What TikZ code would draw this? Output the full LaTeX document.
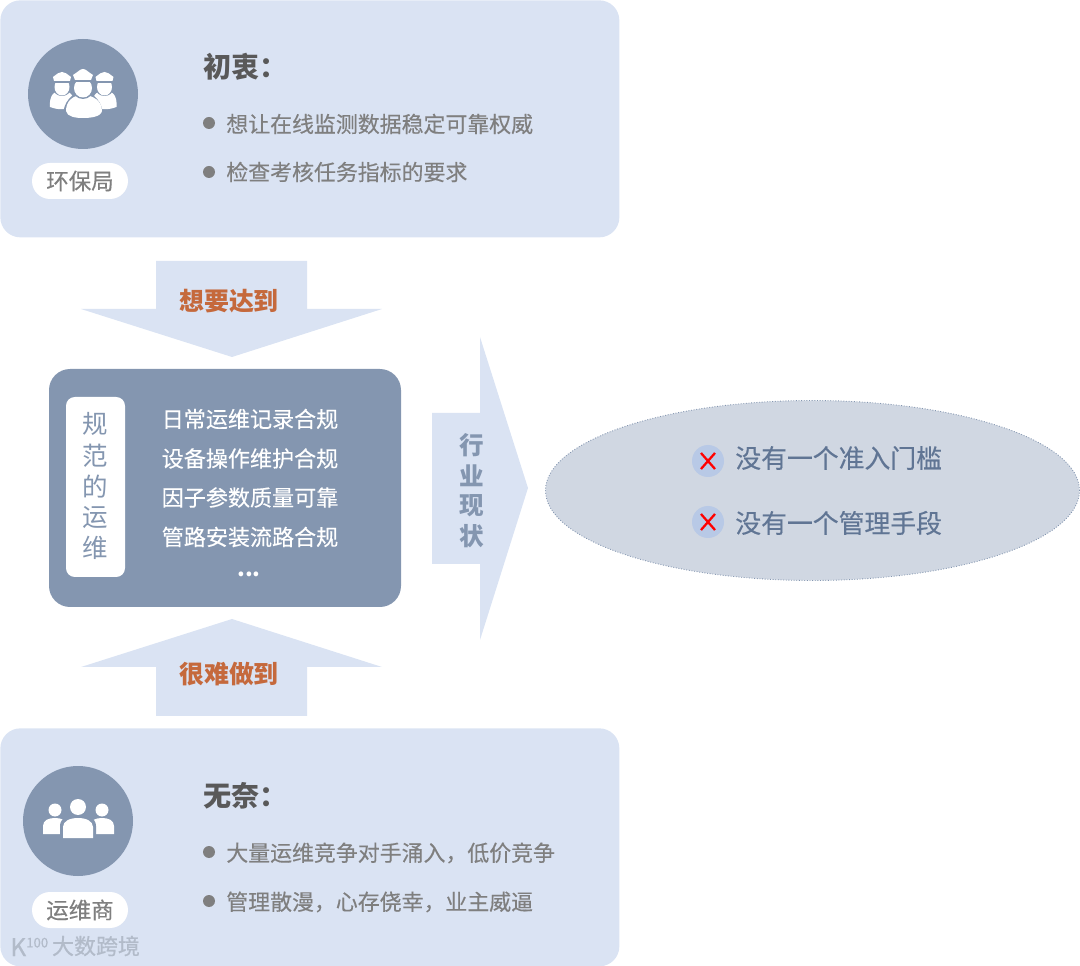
\documentclass[tikz,border=0pt]{standalone}
\usepackage{fontspec}
\setmainfont{Noto Sans CJK SC}
\newfontfamily\midfont[FakeBold=0.35]{Noto Sans CJK SC}
\newfontfamily\markfont[FakeBold=0.6]{Noto Sans CJK SC}
\usetikzlibrary{positioning,shapes.geometric}
\definecolor{panelblue}{RGB}{218,227,243}
\definecolor{slateblue}{RGB}{132,150,176}
\definecolor{textgray}{RGB}{127,127,127}
\definecolor{headgray}{RGB}{89,89,89}
\definecolor{mainorange}{RGB}{197,105,60}
\definecolor{ovalfill}{RGB}{208,215,226}
\definecolor{ovaltext}{RGB}{96,117,148}
\definecolor{crossblue}{RGB}{184,201,230}
\definecolor{markfill}{RGB}{178,187,201}
\tikzset{
  panel/.style={rectangle,fill=panelblue,rounded corners=20*0.02cm,anchor=north west,inner sep=0pt,minimum width=619*0.02cm},
  badge/.style={circle,fill=slateblue,minimum size=110*0.02cm,inner sep=0pt},
  pill/.style={rectangle,fill=white,rounded corners=18*0.02cm,minimum width=96*0.02cm,minimum height=36*0.02cm,inner sep=0pt,text=textgray,font=\fontsize{12.8}{15}\selectfont\midfont},
  heading/.style={anchor=west,inner sep=0pt,text=headgray,font=\fontsize{16}{19}\selectfont\bfseries},
  dot/.style={circle,fill=textgray,minimum size=12*0.02cm,inner sep=0pt},
  item/.style={anchor=west,inner sep=0pt,text=textgray,font=\fontsize{12.47}{15}\selectfont\midfont},
  duty/.style={inner sep=0pt,text=white,font=\fontsize{12.55}{15}\selectfont\midfont},
  side/.style={inner sep=0pt,text=slateblue,font=\fontsize{14.5}{17}\selectfont},
  flow/.style={fill=panelblue},
  flowtext/.style={inner sep=0pt,text=mainorange,font=\fontsize{14.2}{17}\selectfont\bfseries},
  state/.style={inner sep=0pt,text=slateblue,font=\fontsize{14}{17}\selectfont\bfseries},
  cross/.style={circle,fill=crossblue,minimum size=32*0.02cm,inner sep=0pt},
  lack/.style={anchor=west,inner sep=0pt,text=ovaltext,font=\fontsize{14.7}{17}\selectfont\midfont},
  figure/.style={fill=white},
  gap/.style={fill=slateblue}
}
\begin{document}
\begin{tikzpicture}[x=0.02cm,y=-0.02cm]
\useasboundingbox (0,0) rectangle (1080,966);
% upper panel
\begin{scope}
\clip (0,0) rectangle (1080,966);
\node[panel,minimum height=237*0.02cm] (top) at (0,0) {};
\node[panel,minimum height=238*0.02cm] (bottom) at (0,728) {};
\end{scope}
\node[badge] (bureau) at (83,94) {};
\node[pill] (bureaulabel) at (80,181) {环保局};
\node[heading] (hope) at (203,67) {初衷：};
\node[dot] (d1) at (209,123) {};
\node[item] (i1) at (226,124) {想让在线监测数据稳定可靠权威};
\node[dot] (d2) at (209,172) {};
\node[item] (i2) at (226,172) {检查考核任务指标的要求};
% officers
\foreach \cx in {62,104.5}{
  \fill[figure] (\cx-12,107) .. controls (\cx-13,96) and (\cx-8,90) .. (\cx,90) .. controls (\cx+8,90) and (\cx+13,96) .. (\cx+12,107) .. controls (\cx+4,110) and (\cx-4,110) .. (\cx-12,107) -- cycle;
  \fill[gap] (\cx,88) ellipse (9 and 8);
  \fill[figure] (\cx,87) ellipse (7.5 and 8.5);
  \fill[gap] (\cx-9,79.5) rectangle (\cx+9,83);
  \fill[figure] (\cx-9,77) .. controls (\cx-5,74) and (\cx-3,72) .. (\cx,72) .. controls (\cx+3,72) and (\cx+5,74) .. (\cx+9,77) -- (\cx+8,81) -- (\cx-8,81) -- cycle;
}
\fill[gap] (83,116) ellipse (20 and 24);
\fill[figure] (66,111) .. controls (66,101) and (73,95) .. (83,95) .. controls (93,95) and (102,101) .. (102,111) .. controls (101,117) and (90,118) .. (83,118) .. controls (76,118) and (67,117) .. (66,111) -- cycle;
\fill[gap] (83,88) ellipse (11 and 11);
\fill[figure] (83,88) ellipse (9 and 9.5);
\fill[gap] (73,78.5) rectangle (93,82);
\fill[figure] (73,75) .. controls (78,72) and (80,69) .. (83,69) .. controls (86,69) and (88,72) .. (93,75) -- (91,80) -- (75,80) -- cycle;
% middle arrows
\fill[flow] (156,261) -- (307,261) -- (307,309) -- (382,309) -- (232,357) -- (81,309) -- (156,309) -- cycle;
\node[flowtext] (want) at (229,301) {想要达到};
\fill[flow] (156,716) -- (307,716) -- (307,667) -- (382,667) -- (232,619) -- (81,667) -- (156,667) -- cycle;
\node[flowtext] (hard) at (229,674) {很难做到};
\fill[flow] (432,413) -- (480,413) -- (480,337) -- (528,488) -- (480,640) -- (480,564) -- (432,564) -- cycle;
\foreach \n/\t/\yy in {s1/行/445,s2/业/476,s3/现/506,s4/状/536}
  \node[state] (\n) at (472,\yy) {\t};
% middle box
\node[rectangle,fill=slateblue,rounded corners=12pt,minimum width=352*0.02cm,minimum height=238*0.02cm,inner sep=0pt] (ops) at (225,488) {};
\node[rectangle,fill=white,rounded corners=5pt,minimum width=59*0.02cm,minimum height=180*0.02cm,inner sep=0pt] (opsside) at (95.5,487) {};
\foreach \n/\t/\yy in {o1/规/424,o2/范/456,o3/的/487,o4/运/518,o5/维/548}
  \node[side] (\n) at (95,\yy) {\t};
\node[duty] (u1) at (250,419) {日常运维记录合规};
\node[duty] (u2) at (250,458.5) {设备操作维护合规};
\node[duty] (u3) at (250,497.5) {因子参数质量可靠};
\node[duty] (u4) at (250,537) {管路安装流路合规};
\node[duty,font=\fontsize{12.6}{15}\selectfont\bfseries] (u5) at (249,574) {...};
% oval
\node[ellipse,fill=ovalfill,draw=slateblue,densely dotted,line width=0.5pt,minimum width=534*0.02cm,minimum height=180*0.02cm,inner sep=0pt] (now) at (812.5,490.5) {};
\node[cross] (c1) at (708,461) {};
\node[cross] (c2) at (708,522) {};
\foreach \n in {c1,c2}{
  \draw[red,line width=1.3pt] ([xshift=-7*0.02cm,yshift=-8*0.02cm]\n.center) -- ([xshift=7*0.02cm,yshift=8*0.02cm]\n.center);
  \draw[red,line width=1.3pt] ([xshift=-7*0.02cm,yshift=8*0.02cm]\n.center) -- ([xshift=7*0.02cm,yshift=-8*0.02cm]\n.center);
}
\node[lack] (l1) at (735,458) {没有一个准入门槛};
\node[lack] (l2) at (735,523) {没有一个管理手段};
% lower panel
\node[badge] (vendor) at (78,821) {};
\node[pill] (vendorlabel) at (80,910) {运维商};
\node[heading] (helpless) at (203,796) {无奈：};
\node[dot] (d3) at (209,852) {};
\node[item] (i3) at (226,853) {大量运维竞争对手涌入，低价竞争};
\node[dot] (d4) at (209,901) {};
\node[item] (i4) at (226,902) {管理散漫，心存侥幸，业主威逼};
% people
\foreach \cx in {55,102}
  \fill[figure] (\cx,810) circle (6.5);
\fill[figure] (43,834) -- (43,826) .. controls (43,820) and (49,818) .. (55,818) .. controls (61,818) and (67,820) .. (67,826) -- (67,834) -- cycle;
\fill[figure] (90,834) -- (90,826) .. controls (90,820) and (96,818) .. (102,818) .. controls (108,818) and (114,820) .. (114,826) -- (114,834) -- cycle;
\fill[gap] (60,840) -- (60,826) .. controls (60,818) and (68,815) .. (78,815) .. controls (88,815) and (96,818) .. (96,826) -- (96,840) -- cycle;
\fill[figure] (63,838) -- (63,827) .. controls (63,821) and (70,818) .. (78,818) .. controls (86,818) and (93,821) .. (93,827) -- (93,838) -- cycle;
\fill[figure] (78,807) circle (8);
% watermark
\node[inner sep=0pt,text=markfill,font=\fontsize{12.5}{14}\selectfont\markfont] (mark) at (96,946) {大数跨境};
\node[inner sep=0pt,anchor=west,text=markfill,font=\fontsize{14}{16}\selectfont\markfont] (logo) at (10,947) {K\raisebox{5pt}{\fontsize{7.5}{8}\selectfont 100}};
\end{tikzpicture}
\end{document}
